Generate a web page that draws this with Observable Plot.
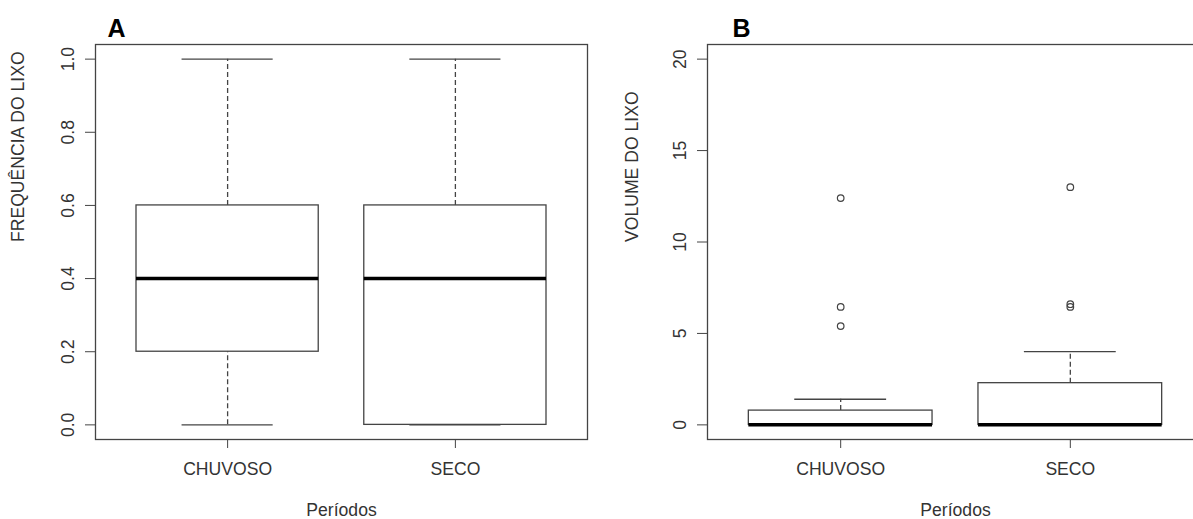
<!DOCTYPE html>
<html><head><meta charset="utf-8">
<script src="https://cdn.jsdelivr.net/npm/d3@7"></script>
<script src="https://cdn.jsdelivr.net/npm/@observablehq/plot@0.6"></script>
<style>
html,body{margin:0;padding:0;background:#fff;overflow:hidden}
#wrap{position:relative;width:1193px;height:519px;overflow:hidden;background:#fff}
#wrap > svg{position:absolute;top:0}
</style></head><body><div id="wrap"></div>
<script>
const categories = ["CHUVOSO", "SECO"];
// Panel A: FREQUÊNCIA DO LIXO
const freqMin = [0, 0], freqQ1 = [0.2, 0], freqMedian = [0.4, 0.4], freqQ3 = [0.6, 0.6], freqMax = [1.0, 1.0];
const freqTicks = [0, 0.2, 0.4, 0.6, 0.8, 1.0];
// Panel B: VOLUME DO LIXO
const volMin = [0, 0], volQ1 = [0, 0], volMedian = [0, 0], volQ3 = [0.78, 2.28], volMax = [1.4, 4.0];
const volOutlierGroup = ["CHUVOSO", "CHUVOSO", "CHUVOSO", "SECO", "SECO", "SECO"];
const volOutlierValue = [5.4, 6.45, 12.4, 6.45, 6.6, 13.0];
const volTicks = [0, 5, 10, 15, 20];
const xTitle = "Períodos";

const ink = "#444";
function panel(o) {
  const stats = categories.map((c, i) => ({pos: i + 1, min: o.min[i], q1: o.q1[i], med: o.med[i], q3: o.q3[i], max: o.max[i]}));
  const outs = (o.outG || []).map((g, i) => ({pos: categories.indexOf(g) + 1, v: o.outV[i]}));
  const svg = Plot.plot({
    width: o.width, height: 519,
    marginLeft: o.marginLeft, marginRight: o.marginRight, marginTop: 44, marginBottom: 80,
    style: {fontFamily: '"Liberation Sans", Arial, sans-serif', fontSize: "17.6px", color: "#333", background: "transparent", overflow: "visible"},
    x: {type: "linear", domain: [0.42, 2.58]},
    y: {domain: o.yDomain},
    marks: [
      Plot.ruleX(stats, {x: "pos", y1: "q3", y2: "max", stroke: ink, strokeWidth: 1.3, strokeDasharray: "5,3"}),
      Plot.ruleX(stats, {x: "pos", y1: "min", y2: "q1", stroke: ink, strokeWidth: 1.3, strokeDasharray: "5,3"}),
      Plot.ruleY(stats, {y: "max", x1: d => d.pos - 0.2, x2: d => d.pos + 0.2, stroke: ink, strokeWidth: 1.3}),
      Plot.ruleY(stats, {y: "min", x1: d => d.pos - 0.2, x2: d => d.pos + 0.2, stroke: ink, strokeWidth: 1.3}),
      Plot.rect(stats, {x1: d => d.pos - 0.4, x2: d => d.pos + 0.4, y1: "q1", y2: "q3", fill: "white", stroke: ink, strokeWidth: 1.3}),
      Plot.ruleY(stats, {y: "med", x1: d => d.pos - 0.4, x2: d => d.pos + 0.4, stroke: "#000", strokeWidth: 3.5}),
      Plot.dot(outs, {x: "pos", y: "v", r: 3.3, stroke: ink, strokeWidth: 1.2, fill: "none"}),
      Plot.frame({stroke: ink, strokeWidth: 1.3}),
      Plot.axisY({ticks: o.yTicks, tickFormat: o.yFormat, tickSize: 10, tickPadding: 12, tickRotate: -90, label: null, stroke: ink}),
      Plot.axisX({ticks: [1, 2], tickFormat: d => categories[d - 1], tickSize: 9, tickPadding: 14, label: null, stroke: ink}),
      Plot.text([xTitle], {frameAnchor: "bottom", dy: 76, lineAnchor: "bottom", text: d => d, fill: "#333"}),
      Plot.text([o.yLabel], {frameAnchor: "left", dx: o.yLabelDx, rotate: -90, text: d => d, fill: "#333"}),
      Plot.text([o.letter], {frameAnchor: "top-left", dx: o.letterDx, dy: -8, lineAnchor: "bottom", textAnchor: "start", text: d => d, fontWeight: "bold", fontSize: 25, fill: "#000"})
    ]
  });
  svg.style.left = o.left + "px";
  document.getElementById("wrap").appendChild(svg);
}

panel({letter: "A", yLabel: "FREQUÊNCIA DO LIXO", min: freqMin, q1: freqQ1, med: freqMedian, q3: freqQ3, max: freqMax,
  yDomain: [-0.04, 1.04], yTicks: freqTicks, yFormat: d => d.toFixed(1),
  width: 597, marginLeft: 95, marginRight: 10, left: 0, yLabelDx: -77, letterDx: 12});
panel({letter: "B", yLabel: "VOLUME DO LIXO", min: volMin, q1: volQ1, med: volMedian, q3: volQ3, max: volMax,
  outG: volOutlierGroup, outV: volOutlierValue,
  yDomain: [-0.8, 20.8], yTicks: volTicks, yFormat: d => String(d),
  width: 620, marginLeft: 107, marginRight: 17, left: 600, yLabelDx: -75, letterDx: 25});
</script></body></html>
